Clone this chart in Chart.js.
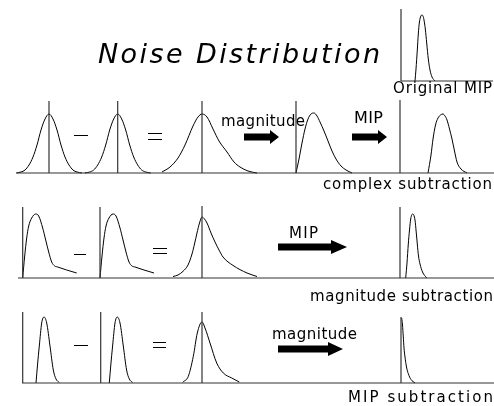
<!doctype html>
<html lang="en">
    <head>
        <meta charset="UTF-8" />
        <title>Noise Distribution</title>
        <style>
            html, body { margin: 0; padding: 0; background: #fff; }
            .chartBox { width: 494px; height: 406px; }
        </style>
    </head>
    <body>
        <div class="chartBox">
            <canvas id="myChart"></canvas>
        </div>

        <script src="https://cdn.jsdelivr.net/npm/chart.js"></script>
        <script>
            // curve shapes: [offset from anchor, height above baseline]
            const gaussNarrow = [[-33, 0], [-28, 1], [-24, 3], [-20, 8], [-16, 16], [-12, 28], [-8, 43], [-4, 54], [0, 59], [4, 54], [8, 43], [12, 28], [16, 16], [20, 8], [24, 3], [28, 1], [33, 0]];
            const gaussWide = [[-40, 1], [-32, 6], [-24, 15], [-17, 28], [-9, 47], [-4, 56], [0, 59], [5, 56], [11, 44], [17, 32], [25, 21], [32, 11], [38, 6], [46, 2], [55, 0]];
            const rician = [[0, 0], [3, 14], [6, 30], [9, 44], [12, 54], [15, 59], [18, 60], [21, 57], [24, 51], [28, 42], [32, 32], [36, 22], [40, 14], [45, 7], [50, 3], [56, 0]];
            const mipComplex = [[28, 0], [31, 18], [33, 34], [35.5, 48], [38, 55], [40.5, 58], [43, 59], [45, 57], [47, 53], [49.5, 44], [52, 34], [54.5, 22], [57, 11], [61, 4], [67, 0]];
            const mipOriginal = [[14, 0], [15, 12], [16.3, 31], [17.3, 47], [18.3, 58], [19.5, 64], [20.7, 66], [22, 65], [23, 61], [24.3, 52], [25.7, 38], [27.3, 22], [29, 11], [31, 4], [34, 0]];
            const skewed = [[0, 0], [2, 22], [4, 40], [6, 52], [9, 60], [13, 64], [16, 62], [20, 50], [23, 38], [26, 26], [29, 16], [32, 12], [35, 11], [44, 8], [54, 5]];
            const magTail = [[-29, 1.5], [-24, 3], [-19, 6.7], [-14, 13], [-10, 24], [-7.5, 34], [-5, 45], [-2.5, 55], [0, 61], [2.5, 59], [5, 55], [9, 45], [13, 36], [17, 28], [21, 21], [31, 12.6], [45, 5], [55, 1.5]];
            const mipMag = [[5.7, 0], [7, 15], [8.3, 34], [9.5, 48], [10.7, 59], [12.7, 64], [15, 58], [16.2, 46], [17.3, 34], [18.5, 22], [20, 14], [22.5, 6], [26.7, 0]];
            const narrowPeak = [[-8, 0], [-6.5, 18], [-4.7, 37], [-2.3, 60], [0, 66], [2.7, 60], [6, 37], [9.3, 13], [12, 4], [15.3, 0.5]];
            const mipTail = [[-19.3, 0.7], [-13.7, 6.7], [-8.7, 26.7], [-4.7, 50], [0, 61], [3, 55], [8, 40], [14.7, 20], [21.3, 10], [29.7, 5], [37.3, 1]];
            const halfPeak = [[0.7, 65], [1.5, 58], [2.3, 46], [3, 35], [4, 26], [5.5, 16], [7.3, 9.3], [10, 3.5], [14, 0]];

            // layout
            const rows = [
                { base: 173, from: 17, axes: [[49, 101], [117.7, 101], [202, 101], [296, 101], [400, 100]] },
                { base: 278, from: 18, axes: [[22.7, 207], [100, 207], [202, 206], [400, 207]] },
                { base: 383, from: 22, axes: [[22.7, 312], [100.7, 312], [202, 312], [401, 317]] },
            ];
            const original = { base: 81, from: 401, top: 9 };
            const curves = [
                [gaussNarrow, 49, 173], [gaussNarrow, 117.7, 173], [gaussWide, 202, 173], [rician, 296, 173], [mipComplex, 400, 173],
                [mipOriginal, 401, 81],
                [skewed, 22.7, 278], [skewed, 100, 278], [magTail, 202, 278], [mipMag, 400, 278],
                [narrowPeak, 44, 383], [narrowPeak, 117.3, 383], [mipTail, 202, 383], [halfPeak, 401, 383],
            ];
            const labels = [
                ["Noise Distribution", 98, 63, 282, "oblique 27px 'DejaVu Sans'"],
                ["Original MIP", 393, 93, 99, "15px 'DejaVu Sans'"],
                ["magnitude", 221, 126, 84, "15px 'DejaVu Sans'"],
                ["MIP", 354, 123, 29, "16px 'DejaVu Sans'"],
                ["complex subtraction", 323, 189, 169, "15px 'DejaVu Sans'"],
                ["MIP", 289, 238, 29, "15px 'DejaVu Sans'"],
                ["magnitude subtraction", 310, 301, 183, "15px 'DejaVu Sans'"],
                ["magnitude", 272, 339, 85, "15px 'DejaVu Sans'"],
                ["MIP subtraction", 348, 402, 145, "15px 'DejaVu Sans'"],
            ];
            // [shaft start, head start, tip, y]
            const arrows = [[244, 270, 279, 137], [352, 378, 387, 137], [278, 331, 347, 247], [278, 328, 343, 349]];
            const minus = [[74, 88, 135], [74, 86, 254], [74, 88, 345]];
            const equals = [[148, 162, 133, 139], [153, 167, 248, 253], [153, 166, 342, 347]];

            // datasets
            const datasets = [];
            const line = (pts, color, width) => datasets.push({
                data: pts, showLine: true, pointRadius: 0, borderColor: color,
                borderWidth: width, cubicInterpolationMode: "monotone",
            });
            rows.forEach((r) => {
                line([{ x: r.from, y: r.base }, { x: 494, y: r.base }], "#333", 1.2);
                r.axes.forEach(([x, top]) => line([{ x: x, y: top }, { x: x, y: r.base }], "#333", 1.2));
            });
            line([{ x: original.from, y: original.base }, { x: 493, y: original.base }], "#333", 1.2);
            line([{ x: original.from, y: original.top }, { x: original.from, y: original.base }], "#333", 1.2);
            curves.forEach(([shape, x0, base]) => {
                line(shape.map(([dx, h]) => ({ x: x0 + dx, y: base - h })), "#000", 1);
            });

            // plugin: text, signs and arrows
            const extras = {
                id: "extras",
                afterDatasetsDraw(chart) {
                    const { ctx, scales: { x, y } } = chart;
                    const px = (v) => x.getPixelForValue(v);
                    const py = (v) => y.getPixelForValue(v);
                    ctx.save();
                    ctx.fillStyle = "#000";
                    ctx.strokeStyle = "#000";
                    ctx.textBaseline = "alphabetic";
                    labels.forEach(([t, lx, ly, w, font]) => {
                        ctx.font = font;
                        ctx.letterSpacing = "0px";
                        const m = ctx.measureText(t).width;
                        ctx.letterSpacing = (w - m) / (t.length - 1) + "px";
                        ctx.fillText(t, px(lx), py(ly));
                    });
                    ctx.lineWidth = 1;
                    minus.forEach(([a, b, yy]) => {
                        ctx.beginPath();
                        ctx.moveTo(px(a), py(yy) + 0.5);
                        ctx.lineTo(px(b), py(yy) + 0.5);
                        ctx.stroke();
                    });
                    equals.forEach(([a, b, y1, y2]) => {
                        ctx.beginPath();
                        ctx.moveTo(px(a), py(y1) + 0.5);
                        ctx.lineTo(px(b), py(y1) + 0.5);
                        ctx.moveTo(px(a), py(y2) + 0.5);
                        ctx.lineTo(px(b), py(y2) + 0.5);
                        ctx.stroke();
                    });
                    arrows.forEach(([s, h, t, yy]) => {
                        const c = py(yy);
                        ctx.beginPath();
                        ctx.moveTo(px(s), c - 3.5);
                        ctx.lineTo(px(h), c - 3.5);
                        ctx.lineTo(px(h), c - 7);
                        ctx.lineTo(px(t), c);
                        ctx.lineTo(px(h), c + 7);
                        ctx.lineTo(px(h), c + 3.5);
                        ctx.lineTo(px(s), c + 3.5);
                        ctx.closePath();
                        ctx.fill();
                    });
                    ctx.restore();
                },
            };

            const config = {
                type: "scatter",
                data: { datasets: datasets },
                options: {
                    responsive: true,
                    maintainAspectRatio: false,
                    animation: false,
                    layout: { padding: 0 },
                    plugins: { legend: { display: false }, tooltip: { enabled: false } },
                    scales: {
                        x: { type: "linear", min: 0, max: 494, display: false },
                        y: { type: "linear", min: 0, max: 406, reverse: true, display: false },
                    },
                },
                plugins: [extras],
            };
            var ctx = document.getElementById("myChart").getContext("2d");
            new Chart(ctx, config);
        </script>
    </body>
</html>
